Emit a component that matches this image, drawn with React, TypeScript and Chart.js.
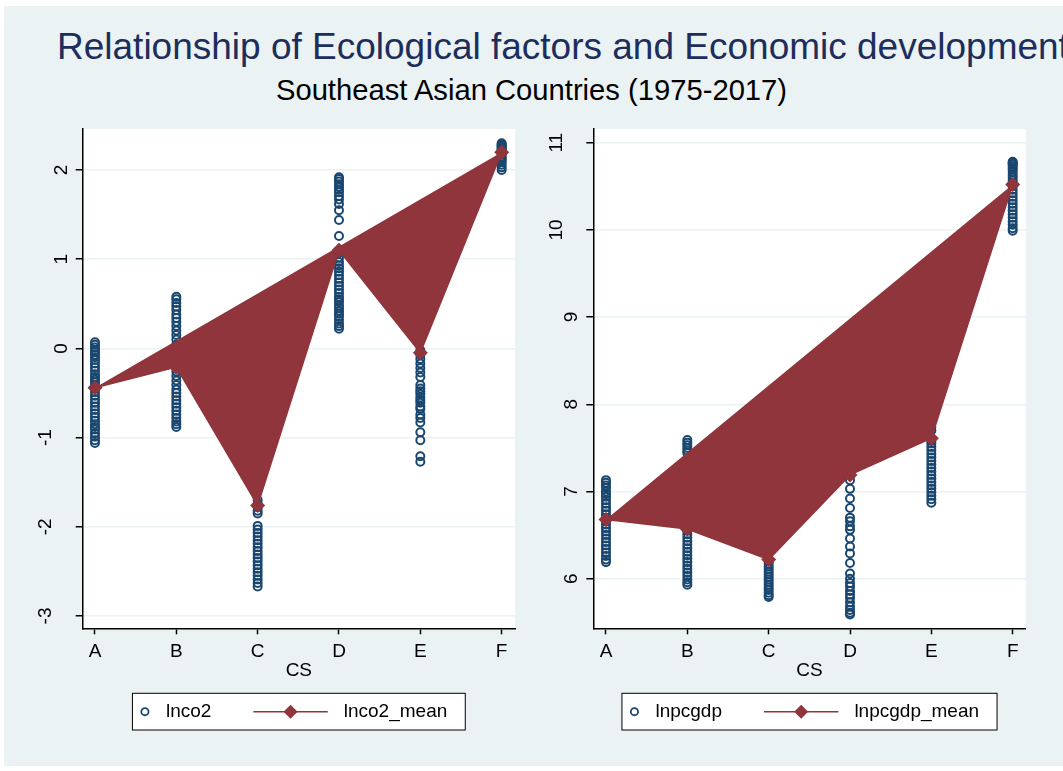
import React, { useEffect, useRef } from 'react';
import { Chart, registerables } from 'chart.js';

Chart.register(...registerables);

// ---------- data ----------
const categories = ['A', 'B', 'C', 'D', 'E', 'F'];

const lnco2Values: number[][] = [
  [0.07, 0.04, 0.01, -0.02, -0.04, -0.07, -0.1, -0.13, -0.17, -0.21, -0.25, -0.29, -0.32, -0.35, -0.38, -0.41, -0.45, -0.49, -0.53, -0.57, -0.61, -0.65, -0.69, -0.73, -0.77, -0.81, -0.85, -0.88, -0.91, -0.95, -0.99, -1.03, -1.06],
  [0.58, 0.55, 0.51, 0.47, 0.43, 0.38, 0.34, 0.3, 0.25, 0.2, 0.15, 0.1, 0.04, -0.02, -0.08, -0.14, -0.2, -0.26, -0.31, -0.36, -0.41, -0.46, -0.5, -0.54, -0.58, -0.62, -0.66, -0.7, -0.74, -0.78, -0.82, -0.85, -0.88],
  [-1.7, -1.74, -1.78, -1.82, -1.85, -1.99, -2.03, -2.07, -2.11, -2.15, -2.19, -2.23, -2.27, -2.31, -2.35, -2.39, -2.43, -2.47, -2.51, -2.55, -2.59, -2.63, -2.67],
  [1.92, 1.9, 1.87, 1.84, 1.81, 1.78, 1.75, 1.71, 1.67, 1.62, 1.55, 1.44, 1.26, 1.07, 1.02, 0.97, 0.93, 0.9, 0.86, 0.82, 0.78, 0.74, 0.7, 0.66, 0.62, 0.58, 0.55, 0.52, 0.48, 0.45, 0.42, 0.39, 0.36, 0.32, 0.28, 0.25, 0.22],
  [-0.02, -0.07, -0.12, -0.17, -0.22, -0.27, -0.32, -0.41, -0.45, -0.48, -0.51, -0.55, -0.58, -0.61, -0.65, -0.68, -0.74, -0.78, -0.83, -0.94, -1.03, -1.21, -1.27],
  [2.3, 2.29, 2.28, 2.27, 2.26, 2.25, 2.24, 2.23, 2.22, 2.21, 2.19, 2.17, 2.15, 2.13, 2.11, 2.09, 2.06, 2.03, 2.0],
];
const lnco2Mean = [-0.44, -0.21, -1.76, 1.1, -0.05, 2.2];

const lnpcgdpValues: number[][] = [
  [7.13, 7.1, 7.07, 7.04, 7.0, 6.97, 6.94, 6.9, 6.86, 6.82, 6.78, 6.74, 6.7, 6.66, 6.62, 6.58, 6.54, 6.5, 6.46, 6.42, 6.38, 6.34, 6.3, 6.26, 6.22, 6.19],
  [7.59, 7.56, 7.53, 7.5, 7.47, 7.44, 7.3, 7.1, 6.9, 6.7, 6.55, 6.51, 6.47, 6.43, 6.39, 6.35, 6.31, 6.27, 6.23, 6.19, 6.15, 6.11, 6.07, 6.03, 5.99, 5.96, 5.93],
  [6.2, 6.17, 6.14, 6.11, 6.08, 6.05, 6.02, 5.99, 5.96, 5.93, 5.9, 5.87, 5.84, 5.81, 5.79],
  [7.13, 7.03, 6.92, 6.81, 6.7, 6.66, 6.6, 6.56, 6.46, 6.37, 6.29, 6.18, 6.06, 6.0, 5.95, 5.91, 5.86, 5.82, 5.78, 5.73, 5.68, 5.64, 5.61, 5.59],
  [7.74, 7.7, 7.58, 7.55, 7.51, 7.47, 7.43, 7.39, 7.35, 7.31, 7.27, 7.23, 7.19, 7.15, 7.11, 7.07, 7.03, 6.99, 6.95, 6.91, 6.87],
  [10.78, 10.77, 10.76, 10.75, 10.73, 10.71, 10.69, 10.66, 10.63, 10.6, 10.57, 10.54, 10.5, 10.46, 10.42, 10.38, 10.34, 10.3, 10.26, 10.22, 10.18, 10.14, 10.1, 10.06, 10.02, 9.99],
];
const lnpcgdpMean = [6.68, 6.57, 6.22, 7.19, 7.61, 10.52];

const lnco2Ticks = [-3, -2, -1, 0, 1, 2];
const lnpcgdpTicks = [6, 7, 8, 9, 10, 11];

const titleText = 'Relationship of Ecological factors and Economic development';
const subtitleText = 'Southeast Asian Countries (1975-2017)';
const xTitle = 'CS';

// ---------- styles ----------
const NAVY = '#1a476f';
const MAROON = '#90353b';
const BG = '#eaf2f3';
const FONT = "'Liberation Sans', Arial, Helvetica, sans-serif";
const FS = 19;

const plotBg = {
  id: 'plotBg',
  beforeDraw(chart: any) {
    const { ctx, chartArea: a } = chart;
    ctx.save();
    ctx.fillStyle = '#ffffff';
    ctx.fillRect(a.left, a.top, a.right - a.left, a.bottom - a.top);
    ctx.restore();
  },
};

const rotatedYLabels = {
  id: 'rotatedYLabels',
  afterDraw(chart: any) {
    const s = chart.scales.y;
    const ctx = chart.ctx;
    ctx.save();
    ctx.font = `${FS}px ${FONT}`;
    ctx.fillStyle = '#000';
    ctx.textAlign = 'center';
    ctx.textBaseline = 'alphabetic';
    s.ticks.forEach((t: any) => {
      const lbl = String(t.label ?? t.value);
      const py = s.getPixelForValue(t.value);
      const x = chart.chartArea.left - 16 - (lbl.length - 1) * 15.5;
      ctx.save();
      ctx.translate(x, py);
      ctx.rotate(-Math.PI / 2);
      ctx.fillText(lbl, 0, 0);
      ctx.restore();
    });
    ctx.restore();
  },
};

const stataLegend = {
  id: 'stataLegend',
  afterDraw(chart: any, _args: any, opts: any) {
    const { ctx, chartArea: a } = chart;
    ctx.save();
    ctx.font = `${FS}px ${FONT}`;
    const w1 = ctx.measureText(opts.scatterLabel).width;
    const w2 = ctx.measureText(opts.meanLabel).width;
    const W = 33.5 + w1 + 42 + 74.4 + 16 + w2 + 18;
    const cx = (a.left + a.right) / 2;
    const L = cx - W / 2;
    const top = a.bottom + 65;
    const H = 36.7;
    const cy = top + H / 2;
    ctx.fillStyle = '#fff';
    ctx.fillRect(L, top, W, H);
    ctx.strokeStyle = '#000';
    ctx.lineWidth = 1;
    ctx.strokeRect(L, top, W, H);
    ctx.beginPath();
    ctx.arc(L + 12.5, cy, 3.6, 0, Math.PI * 2);
    ctx.strokeStyle = NAVY;
    ctx.lineWidth = 1.8;
    ctx.stroke();
    ctx.fillStyle = '#000';
    ctx.textAlign = 'left';
    ctx.textBaseline = 'middle';
    ctx.fillText(opts.scatterLabel, L + 33.5, cy);
    const ls = L + 33.5 + w1 + 42;
    const le = ls + 74.4;
    ctx.beginPath();
    ctx.moveTo(ls, cy);
    ctx.lineTo(le, cy);
    ctx.strokeStyle = MAROON;
    ctx.lineWidth = 1.5;
    ctx.stroke();
    const dm = (ls + le) / 2;
    const r = 7;
    ctx.beginPath();
    ctx.moveTo(dm, cy - r);
    ctx.lineTo(dm + r, cy);
    ctx.lineTo(dm, cy + r);
    ctx.lineTo(dm - r, cy);
    ctx.closePath();
    ctx.fillStyle = MAROON;
    ctx.fill();
    ctx.fillStyle = '#000';
    ctx.fillText(opts.meanLabel, le + 16, cy);
    ctx.restore();
  },
};

interface PanelProps {
  values: number[][];
  means: number[];
  ticks: number[];
  yMin: number;
  yMax: number;
  xMin: number;
  xMax: number;
  scatterLabel: string;
  meanLabel: string;
  yWidth: number;
  padRight: number;
  width: number;
  height: number;
  left: number;
  top: number;
}

function Panel(p: PanelProps) {
  const ref = useRef<HTMLCanvasElement | null>(null);
  useEffect(() => {
    if (!ref.current) return;
    const font = { family: FONT, size: FS };
    const points = p.values.flatMap((arr, i) => arr.map((y) => ({ x: i + 1, y })));
    const meanPts = p.means.map((y, i) => ({ x: i + 1, y }));
    const chart = new Chart(ref.current, {
      type: 'scatter',
      data: {
        datasets: [
          {
            type: 'line',
            label: p.meanLabel,
            data: meanPts,
            order: 0,
            borderColor: MAROON,
            backgroundColor: MAROON,
            borderWidth: 1.5,
            fill: 'shape',
            tension: 0,
            pointStyle: 'rectRot',
            pointRadius: 7.5,
            pointBackgroundColor: MAROON,
            pointBorderColor: MAROON,
            pointBorderWidth: 0,
          } as any,
          {
            type: 'scatter',
            label: p.scatterLabel,
            data: points,
            order: 1,
            pointStyle: 'circle',
            pointRadius: 4,
            pointBorderWidth: 2,
            pointBorderColor: NAVY,
            pointBackgroundColor: 'rgba(0,0,0,0)',
            borderColor: NAVY,
            backgroundColor: 'rgba(0,0,0,0)',
          } as any,
        ],
      },
      options: {
        animation: false,
        responsive: false,
        events: [],
        layout: { padding: { left: 0, top: 19, right: p.padRight, bottom: p.height - 19 - 499.3 - 60 } },
        plugins: {
          legend: { display: false },
          tooltip: { enabled: false },
          stataLegend: { scatterLabel: p.scatterLabel, meanLabel: p.meanLabel },
        } as any,
        scales: {
          x: {
            type: 'linear',
            min: p.xMin,
            max: p.xMax,
            afterBuildTicks: (s: any) => {
              s.ticks = categories.map((_, i) => ({ value: i + 1 }));
            },
            afterFit: (s: any) => {
              s.height = 60;
            },
            ticks: {
              callback: (v: any) => categories[Math.round(Number(v)) - 1] ?? '',
              font,
              color: '#000',
              padding: 6,
              maxRotation: 0,
              autoSkip: false,
            },
            grid: {
              display: true,
              drawOnChartArea: false,
              drawTicks: true,
              tickLength: 6,
              tickColor: '#000',
              tickWidth: 1.5,
            },
            border: { display: true, color: '#000', width: 1.5 },
            title: { display: true, text: xTitle, font, color: '#000', padding: { top: 0, bottom: 6 } },
          },
          y: {
            type: 'linear',
            min: p.yMin,
            max: p.yMax,
            afterBuildTicks: (s: any) => {
              s.ticks = p.ticks.map((v) => ({ value: v }));
            },
            afterFit: (s: any) => {
              s.width = p.yWidth;
            },
            ticks: { display: false, callback: (v: any) => String(v) },
            grid: {
              color: BG,
              lineWidth: 1.5,
              drawTicks: true,
              tickLength: 7,
              tickColor: '#000',
              tickWidth: 1.5,
            },
            border: { display: true, color: '#000', width: 1.5 },
          },
        },
      } as any,
      plugins: [plotBg, rotatedYLabels, stataLegend] as any,
    });
    return () => chart.destroy();
  }, []);
  return (
    <canvas
      ref={ref}
      width={p.width}
      height={p.height}
      style={{ position: 'absolute', left: p.left, top: p.top, width: p.width, height: p.height }}
    />
  );
}

export default function App() {
  return (
    <div
      style={{
        position: 'absolute',
        left: 0,
        top: 0,
        width: 1063,
        height: 771,
        background: '#ffffff',
        overflow: 'hidden',
        fontFamily: FONT,
      }}
    >
      <div style={{ position: 'absolute', left: 4, top: 6, right: 0, bottom: 5, background: BG }} />
      <div
        style={{
          position: 'absolute',
          left: 57,
          top: 28,
          fontSize: 37,
          lineHeight: '37px',
          color: '#1d2d5c',
          whiteSpace: 'nowrap',
        }}
      >
        {titleText}
      </div>
      <div
        style={{
          position: 'absolute',
          left: 0,
          width: 1063,
          top: 75.5,
          fontSize: 29.2,
          lineHeight: '29px',
          color: '#000',
          textAlign: 'center',
          whiteSpace: 'nowrap',
        }}
      >
        {subtitleText}
      </div>
      <Panel
        values={lnco2Values}
        means={lnco2Mean}
        ticks={lnco2Ticks}
        yMin={-3.138}
        yMax={2.46}
        xMin={0.849}
        xMax={6.164}
        scatterLabel="lnco2"
        meanLabel="lnco2_mean"
        yWidth={82.7}
        padRight={16}
        width={531}
        height={630}
        left={0}
        top={110}
      />
      <Panel
        values={lnpcgdpValues}
        means={lnpcgdpMean}
        ticks={lnpcgdpTicks}
        yMin={5.431}
        yMax={11.157}
        xMin={0.844}
        xMax={6.16}
        scatterLabel="lnpcgdp"
        meanLabel="lnpcgdp_mean"
        yWidth={62.3}
        padRight={37.3}
        width={532}
        height={630}
        left={531}
        top={110}
      />
    </div>
  );
}
